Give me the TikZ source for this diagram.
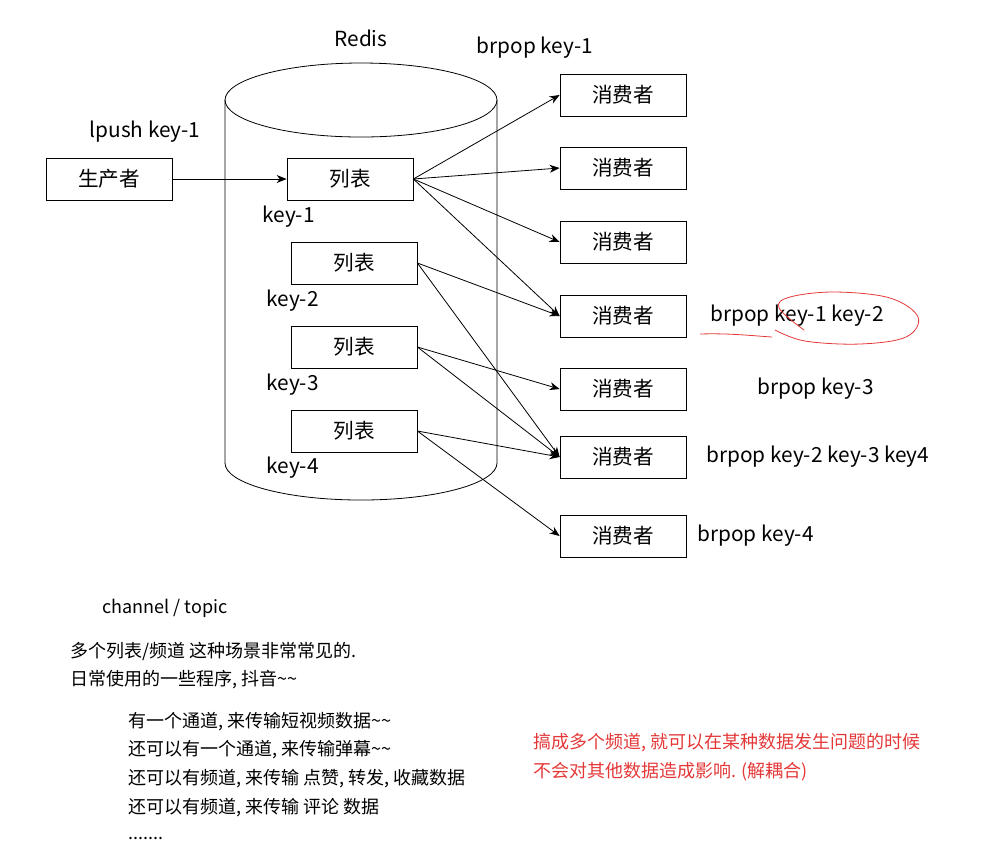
\documentclass[tikz,border=0pt]{standalone}
\usepackage{fontspec}
\setmainfont{Noto Sans CJK SC}
\usetikzlibrary{arrows.meta}
\usetikzlibrary{positioning}
\definecolor{annored}{RGB}{228,56,56}

\begin{document}
\begin{tikzpicture}[x=0.5pt, y=-0.5pt,
        box/.style={draw, minimum width=63pt, minimum height=21pt, inner sep=0pt, font=\fontsize{10.3}{12}\selectfont},
        lbl/.style={inner sep=0pt, font=\fontsize{10.4}{12}\selectfont},
        note/.style={inner sep=0pt, anchor=west, font=\fontsize{9}{11}\selectfont},
        arr/.style={-{Stealth[length=5pt, width=4pt]}, thin}]

        	\useasboundingbox (0,0) rectangle (984,859);

        	% redis cylinder
        	\draw (361,100) ellipse [x radius=136, y radius=37];
        	\draw (225,100) -- (225,463) arc [start angle=180, end angle=0, x radius=136, y radius=37] -- (497,100);
        	\node[lbl] (redis) at (361,38) {Redis};

        	\node[box] (prod) at (109,179) {生产者};
        	\node[lbl] (lpush) at (145,132) {lpush key-1};

        	\node[box] (lst1) at (350,179) {列表};
        	\node[box] (lst2) at (354,263) {列表};
        	\node[box] (lst3) at (354,347) {列表};
        	\node[box] (lst4) at (354,431) {列表};
        	\node[lbl, anchor=west] (k1) at (262,217) {key-1};
        	\node[lbl, anchor=west] (k2) at (266,301) {key-2};
        	\node[lbl, anchor=west] (k3) at (266,385) {key-3};
        	\node[lbl, anchor=west] (k4) at (266,468) {key-4};

        	\foreach \i/\y in {1/95, 2/168, 3/242, 4/316, 5/389, 6/457, 7/536}
        		\node[box] (con\i) at (623,\y) {消费者};

        	\node[lbl] (bp1) at (535,48) {brpop key-1};
        	\node[lbl, anchor=west] (bp12) at (710,316) {brpop key-1 key-2};
        	\node[lbl, anchor=west] (bp3) at (757,389) {brpop key-3};
        	\node[lbl, anchor=west] (bp234) at (706,457) {brpop key-2 key-3 key4};
        	\node[lbl, anchor=west] (bp4) at (697,536) {brpop key-4};

        	\draw[arr] (prod.east) -- (lst1.west);

        	\foreach \c in {1,2,3,4}
        		\draw[arr] (lst1.east) -- (con\c.west);
        	\draw[arr] (lst2.east) -- (con4.west);
        	\draw[arr] (lst2.east) -- (con6.west);
        	\draw[arr] (lst3.east) -- (con5.west);
        	\draw[arr] (lst3.east) -- (con6.west);
        	\draw[arr] (lst4.east) -- (con6.west);
        	\draw[arr] (lst4.east) -- (con7.west);

        	% red pen marks
        	\draw[annored, thin] (700,334) .. controls (730,333) and (755,336) .. (772,337);
        	\draw[annored, thin, line cap=round] plot[smooth, tension=0.6] coordinates {(804,330) (779,308) (790,297) (835,292) (890,298) (918,317) (906,337) (860,344) (805,341) (775,330)};

        	% text below
        	\node[note] (chan) at (102,608) {channel / topic};
        	\node[note] (t1) at (70,651) {多个列表/频道 这种场景非常常见的.};
        	\node[note] (t2) at (70,680) {日常使用的一些程序, 抖音\textasciitilde\textasciitilde};
        	\node[note] (t3) at (128,722) {有一个通道, 来传输短视频数据\textasciitilde\textasciitilde};
        	\node[note] (t4) at (128,750) {还可以有一个通道, 来传输弹幕\textasciitilde\textasciitilde};
        	\node[note] (t5) at (128,779) {还可以有频道, 来传输 点赞, 转发, 收藏数据};
        	\node[note] (t6) at (128,808) {还可以有频道, 来传输 评论 数据};
        	\node[note] (t7) at (128,838) {.......};

        	\node[note, annored] (r1) at (533,743) {搞成多个频道, 就可以在某种数据发生问题的时候};
        	\node[note, annored] (r2) at (533,772) {不会对其他数据造成影响. (解耦合)};

        \end{tikzpicture}
\end{document}
